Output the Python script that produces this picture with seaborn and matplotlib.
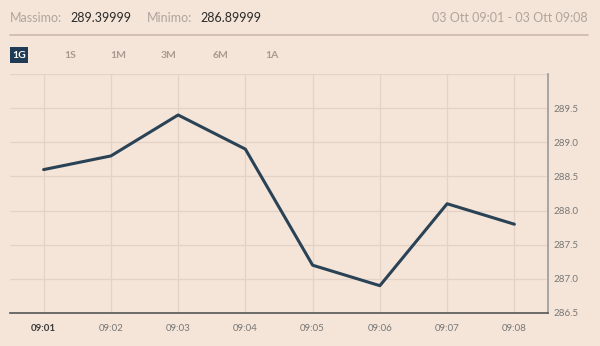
import matplotlib
matplotlib.use("Agg")
import matplotlib.pyplot as plt
import seaborn as sns
import pandas as pd
from matplotlib.patches import FancyBboxPatch

times = ["09:01", "09:02", "09:03", "09:04", "09:05", "09:06", "09:07", "09:08"]
prices = [288.6, 288.8, 289.4, 288.9, 287.2, 286.9, 288.1, 287.8]
y_ticks = [286.5, 287.0, 287.5, 288.0, 288.5, 289.0, 289.5]
periods = ["1G", "1S", "1M", "3M", "6M", "1A"]
max_label = "289.39999"
min_label = "286.89999"
range_label = "03 Ott 09:01 - 03 Ott 09:08"

BG = "#f5e5d8"
LINE = "#2a4256"
GRID = "#e3d2c5"
TXT = "#8a8a8a"

sns.set_theme(style="white")
plt.rcParams['font.family'] = ['Lato', 'DejaVu Sans']

df = pd.DataFrame({"idx": range(len(times)), "price": prices})

fig = plt.figure(figsize=(6, 3.46), dpi=100, facecolor=BG)
ax = fig.add_axes([10/600, 33/346, 538/600, 239/346])
ax.set_facecolor(BG)

sns.lineplot(data=df, x="idx", y="price", ax=ax, color=LINE, linewidth=2.2)

ax.set_xlim(-0.5, 7.5)
ax.set_ylim(286.5, 290.0)
ax.set_xticks(range(len(times)))
ax.set_xticklabels(times)
ax.set_yticks(y_ticks + [290.0])
ax.set_yticklabels([f"{v:.1f}" for v in y_ticks] + [""])
ax.yaxis.tick_right()
ax.set_xlabel("")
ax.set_ylabel("")
ax.grid(True, color=GRID, linewidth=0.9)
ax.tick_params(axis="both", length=0, labelsize=7, colors="#777777", pad=8)
ax.tick_params(axis="y", pad=4)
labels = ax.get_xticklabels()
labels[0].set_fontweight("bold")
labels[0].set_color("#3a3a3a")

for s in ["top", "left"]:
    ax.spines[s].set_visible(False)
ax.spines["bottom"].set_color("#555555")
ax.spines["bottom"].set_linewidth(1.2)
ax.spines["right"].set_color("#9a9a9a")
ax.spines["right"].set_linewidth(1.2)

# header
fig.text(10/600, 1 - 18/346, "Massimo:", color="#b0a49c", fontsize=9, va="center")
fig.text(70/600, 1 - 18/346, max_label, color="#2a2a2a", fontsize=9, va="center")
fig.text(147/600, 1 - 18/346, "Minimo:", color="#b0a49c", fontsize=9, va="center")
fig.text(200/600, 1 - 18/346, min_label, color="#2a2a2a", fontsize=9, va="center")
fig.text(588/600, 1 - 18/346, range_label, color="#b0a49c", fontsize=9, va="center", ha="right")
fig.add_artist(plt.Line2D([10/600, 588/600], [1 - 35/346, 1 - 35/346], color="#cdb9ab", linewidth=1.2))

xs = [19, 70, 118, 169, 221, 272]
for i, (p, x) in enumerate(zip(periods, xs)):
    if i == 0:
        fig.add_artist(FancyBboxPatch(((x - 9)/600, 1 - 63/346), 18/600, 16/346,
                                      boxstyle="square,pad=0", facecolor="#1f3b55",
                                      edgecolor="none", transform=fig.transFigure))
        fig.text(x/600, 1 - 55/346, p, color="white", fontsize=7.5, fontweight="bold",
                 ha="center", va="center")
    else:
        fig.text(x/600, 1 - 55/346, p, color="#a89a90", fontsize=7.5, fontweight="bold",
                 ha="center", va="center")

fig.savefig("out.png", dpi=100, facecolor=BG)
